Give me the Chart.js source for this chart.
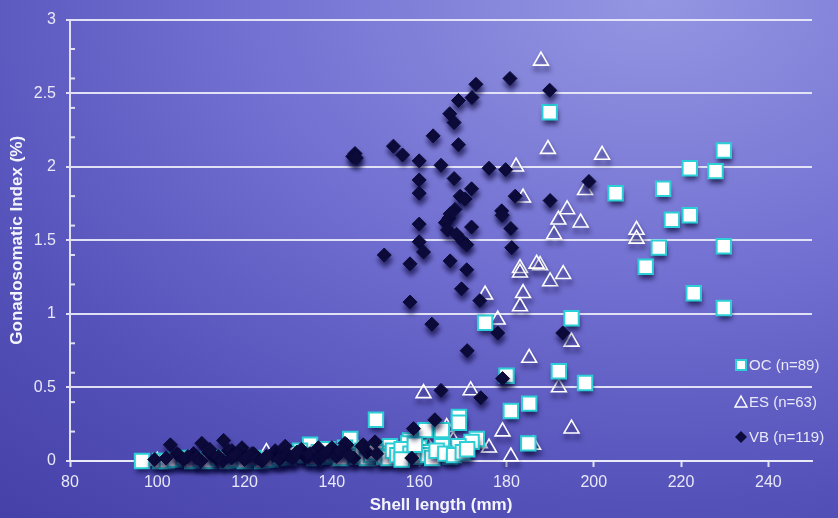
<!DOCTYPE html>
<html>
<head>
<meta charset="utf-8">
<script src="https://cdn.jsdelivr.net/npm/chart.js@4.4.1/dist/chart.umd.min.js"></script>
<style>
  html, body { margin: 0; padding: 0; }
  #wrap {
    width: 838px; height: 518px; position: relative;
    background: radial-gradient(ellipse 120% 130% at 78% 0%, #9496e2 0%, #7371d2 40%, #5451b9 75%, #4541a8 100%);
  }
</style>
</head>
<body>
<div id="wrap"><canvas id="gsiChart"></canvas></div>
<script>
// Shell length (mm) / gonadosomatic index (%) per site
const ocLength = [189.9, 229.8, 222, 227.9, 205, 215.9, 217.9, 222, 214.9, 229.8, 211.9, 222.9, 229.8, 194.9, 175.1,
  180, 192, 198, 181, 185.2, 169.1, 169.1, 161.4, 165.2, 173.2, 172, 185, 169, 165.2, 167.1, 157.9, 153.3, 151.8, 150.1,
  144.2, 135, 132.7, 157.5, 96.5, 100.7, 102.2,
  104, 106, 108, 110, 112, 114, 116, 118, 120, 122, 124, 126, 128, 130, 131, 134, 136, 137, 138, 139, 140, 141, 142, 143,
  145, 146, 147, 148, 149, 150, 152, 153, 154, 155, 156, 158, 159, 160, 161, 162, 163, 164, 166, 168, 170, 171, 156, 159];
const ocGsi = [2.37, 2.11, 1.99, 1.97, 1.82, 1.85, 1.64, 1.67, 1.45, 1.46, 1.32, 1.14, 1.04, 0.97, 0.94,
  0.58, 0.61, 0.53, 0.34, 0.39, 0.30, 0.26, 0.21, 0.21, 0.15, 0.13, 0.12, 0.10, 0.10, 0.03, 0.14, 0.10, 0.05, 0.28,
  0.15, 0.11, 0.07, 0.12, 0, 0, 0,
  0.01, 0.02, 0, 0.01, 0, 0.02, 0, 0.01, 0, 0.02, 0, 0.01, 0.02, 0.03, 0.05, 0.04, 0.02, 0.06, 0.03, 0.08, 0.04, 0.06, 0.02, 0.09,
  0.05, 0.03, 0.07, 0.02, 0.04, 0.06, 0.03, 0.02, 0.07, 0.04, 0.08, 0.05, 0.03, 0.09, 0.06, 0.04, 0.02, 0.07, 0.05, 0.04, 0.06, 0.08, 0.01, 0.11];

const esLength = [187.9, 189.5, 201.9, 182.2, 183.8, 198, 193.9, 191.9, 197, 190.9, 209.8, 209.8, 187.7, 190, 193,
  183.1, 183.1, 186.9, 183.8, 183.1, 175.1, 178, 194.9, 185.2, 192, 161, 171.8, 179.1, 194.9, 186.1, 173.9, 166.3, 167.8, 162.1,
  100, 105, 108, 110, 114, 118, 120, 122, 125, 128, 130, 132, 136, 138, 140, 143, 144, 146, 148, 150, 152, 155, 156, 158,
  160, 164, 170, 176, 181];
const esGsi = [2.72, 2.12, 2.08, 2.00, 1.79, 1.84, 1.71, 1.64, 1.62, 1.54, 1.57, 1.51, 1.33, 1.22, 1.27,
  1.31, 1.28, 1.34, 1.14, 1.05, 1.13, 0.96, 0.81, 0.70, 0.50, 0.46, 0.48, 0.20, 0.22, 0.11, 0.12, 0.23, 0.14, 0.10,
  0, 0, 0.01, 0, 0.01, 0, 0.02, 0, 0.06, 0.01, 0, 0.02, 0, 0.05, 0.03, 0.05, 0.01, 0.08, 0.04, 0, 0.02, 0.06, 0.01, 0.03,
  0.08, 0.05, 0.04, 0.09, 0.03];

const vbLength = [173.0, 180.8, 189.9, 172.1, 169, 167, 168, 163.2, 169, 154.1, 156.2, 145.3, 144.8, 145.6, 160, 165, 176,
  179.8, 160, 168, 160, 172, 169.4, 170.5, 182, 190, 168.2, 178.9, 166.8, 167.1, 166, 166.5, 168.6, 170.1, 170.9, 160, 160,
  161, 152, 157.9, 167.1, 172, 179, 181, 181.2, 170.9, 169.7, 157.9, 173.9, 162.9, 178, 192.9, 198.9, 171, 179.1, 165,
  174.1, 148, 133, 145,
  99.4, 103, 104.5, 104.9, 108.3, 110.2, 111.8, 112.2, 113.7, 115.2, 116.3, 117.1, 119.4, 119, 121.7, 122.1, 126.6, 127,
  128.9, 129.3, 133.9, 134.6, 136.9, 140, 143.4, 143, 146.9, 147.2, 149.9, 150.3, 158.3, 158.7, 163.6,
  102, 106, 107, 109, 110, 112, 114, 115, 117, 118, 120, 121, 123, 124, 125, 128, 130, 131, 132, 135, 137, 138, 139, 141, 142, 144];
const vbGsi = [2.56, 2.60, 2.52, 2.47, 2.45, 2.36, 2.30, 2.21, 2.15, 2.14, 2.08, 2.09, 2.07, 2.06, 2.04, 2.01, 1.99,
  1.98, 1.91, 1.92, 1.82, 1.85, 1.80, 1.78, 1.80, 1.77, 1.71, 1.70, 1.65, 1.68, 1.62, 1.57, 1.54, 1.49, 1.47, 1.61, 1.49,
  1.42, 1.40, 1.34, 1.36, 1.59, 1.67, 1.58, 1.45, 1.30, 1.17, 1.08, 1.09, 0.93, 0.87, 0.87, 1.90, 0.75, 0.56, 0.48,
  0.43, 0.06, 0.08, 0.02,
  0.01, 0.11, 0.05, 0.04, 0.05, 0.12, 0.06, 0.05, 0.01, 0.14, 0.07, 0.07, 0.09, 0.07, 0.05, 0.05, 0.04, 0.07,
  0.07, 0.10, 0.03, 0.03, 0.09, 0.09, 0.11, 0.12, 0.10, 0.11, 0.13, 0.05, 0.02, 0.22, 0.28,
  0.02, 0.01, 0.03, 0.02, 0, 0.08, 0.03, 0, 0.02, 0.04, 0.01, 0.03, 0.02, 0, 0.03, 0.01, 0.04, 0.02, 0.06, 0.05, 0.01, 0.04, 0.06, 0.03, 0.07, 0.04];

const seriesLabels = ['OC (n=89)', 'ES (n=63)', 'VB (n=119)'];
const xTickValues = [80, 100, 120, 140, 160, 180, 200, 220, 240];
const yTickValues = [0, 0.5, 1, 1.5, 2, 2.5, 3];
const yMinorTicks = [0.2, 0.4, 0.6, 0.8, 1.2, 1.4, 1.6, 1.8, 2.2, 2.4, 2.6, 2.8];

const FONT = '"Liberation Sans", Arial, sans-serif';
const lineColor = 'rgba(236,236,250,0.92)';
const textColor = '#e8e8f6';
const ocStyle = { pointStyle: 'rect', radius: 10.2, bg: '#ffffff', border: '#2ccfd6', bw: 2 };
const esStyle = { pointStyle: 'triangle', radius: 8.6, bg: 'rgba(0,0,0,0)', border: '#ffffff', bw: 1.6 };
const vbStyle = { pointStyle: 'rectRot', radius: 7, bg: '#0c0b3a', border: '#0c0b3a', bw: 1 };

const toPoints = (xs, ys) => xs.map((x, i) => ({ x: x, y: ys[i] }));

function makeDataset(label, xs, ys, st, order) {
    return {
        label: label,
        data: toPoints(xs, ys),
        pointStyle: st.pointStyle,
        pointRadius: st.radius,
        pointHoverRadius: st.radius,
        backgroundColor: st.bg,
        borderColor: st.border,
        borderWidth: st.bw,
        order: order,
        clip: false
    };
}

// small inside tick marks on the y axis
const minorTicks = {
    id: 'minorTicks',
    beforeDatasetsDraw(chart) {
        const { ctx, chartArea, scales } = chart;
        ctx.save();
        ctx.strokeStyle = lineColor;
        ctx.lineWidth = 2;
        yMinorTicks.forEach(v => {
            const py = scales.y.getPixelForValue(v);
            ctx.beginPath();
            ctx.moveTo(chartArea.left, py);
            ctx.lineTo(chartArea.left + 5, py);
            ctx.stroke();
        });
        ctx.restore();
    }
};

// drop shadow under markers (squares: fill only, so the white face stays clean)
const markerShadow = {
    id: 'markerShadow',
    beforeDatasetDraw(chart, args) {
        const ctx = chart.ctx;
        ctx.save();
        ctx.shadowColor = 'rgba(12,10,55,0.7)';
        ctx.shadowBlur = 5;
        ctx.shadowOffsetX = 1;
        ctx.shadowOffsetY = 5;
        if (args.index === 0) {
            const plainStroke = CanvasRenderingContext2D.prototype.stroke;
            ctx.stroke = function (...a) {
                const c = this.shadowColor;
                this.shadowColor = 'rgba(0,0,0,0)';
                plainStroke.apply(this, a);
                this.shadowColor = c;
            };
        }
    },
    afterDatasetDraw(chart) {
        const ctx = chart.ctx;
        delete ctx.stroke;
        ctx.restore();
    }
};

// legend sits inside the plot, lower right
const insideLegend = {
    id: 'insideLegend',
    afterDraw(chart) {
        const ctx = chart.ctx;
        const rows = [365, 402, 437];
        const mx = 741;
        ctx.save();
        ctx.font = '15px ' + FONT;
        ctx.textBaseline = 'middle';
        ctx.fillStyle = textColor;
        seriesLabels.forEach((lab, i) => ctx.fillText(lab, 749, rows[i] + 1));

        ctx.fillStyle = ocStyle.bg;
        ctx.strokeStyle = ocStyle.border;
        ctx.lineWidth = 2;
        ctx.fillRect(mx - 5, rows[0] - 5, 10, 10);
        ctx.strokeRect(mx - 5, rows[0] - 5, 10, 10);

        ctx.strokeStyle = '#ffffff';
        ctx.lineWidth = 1.5;
        ctx.beginPath();
        ctx.moveTo(mx, rows[1] - 6);
        ctx.lineTo(mx + 6, rows[1] + 5);
        ctx.lineTo(mx - 6, rows[1] + 5);
        ctx.closePath();
        ctx.stroke();

        ctx.fillStyle = vbStyle.bg;
        ctx.beginPath();
        ctx.moveTo(mx, rows[2] - 6);
        ctx.lineTo(mx + 6, rows[2]);
        ctx.lineTo(mx, rows[2] + 6);
        ctx.lineTo(mx - 6, rows[2]);
        ctx.closePath();
        ctx.fill();
        ctx.restore();
    }
};

new Chart(document.getElementById('gsiChart'), {
    type: 'scatter',
    data: {
        datasets: [
            makeDataset(seriesLabels[0], ocLength, ocGsi, ocStyle, 1),
            makeDataset(seriesLabels[1], esLength, esGsi, esStyle, 2),
            makeDataset(seriesLabels[2], vbLength, vbGsi, vbStyle, 0)
        ]
    },
    options: {
        responsive: true,
        maintainAspectRatio: false,
        animation: false,
        events: [],
        layout: { padding: { top: 15, right: 26, left: 0, bottom: 0 } },
        plugins: {
            legend: { display: false },
            tooltip: { enabled: false }
        },
        scales: {
            x: {
                type: 'linear',
                min: 80,
                max: 250,
                afterBuildTicks: s => { s.ticks = xTickValues.map(v => ({ value: v })); },
                afterFit: s => { s.height = 57; },
                border: { display: true, color: lineColor, width: 2 },
                grid: { drawOnChartArea: false, color: lineColor, tickColor: lineColor, tickLength: 6, tickWidth: 2 },
                ticks: { color: textColor, font: { family: FONT, size: 16 }, padding: 6, callback: v => String(v) },
                title: {
                    display: true,
                    text: 'Shell length (mm)',
                    color: '#f4f4fc',
                    font: { family: FONT, size: 17, weight: 'bold' },
                    padding: { top: 0, bottom: 2 }
                }
            },
            y: {
                type: 'linear',
                min: 0,
                max: 3,
                afterBuildTicks: s => { s.ticks = yTickValues.map(v => ({ value: v })); },
                afterFit: s => { s.width = 70; },
                border: { display: true, color: lineColor, width: 2 },
                grid: { color: lineColor, lineWidth: 2, tickColor: lineColor, tickLength: 4, tickWidth: 2 },
                ticks: { color: textColor, font: { family: FONT, size: 16 }, padding: 10, callback: v => String(v) },
                title: {
                    display: true,
                    text: 'Gonadosomatic Index (%)',
                    color: '#f4f4fc',
                    font: { family: FONT, size: 17, weight: 'bold' },
                    padding: { top: 7, bottom: 0 }
                }
            }
        }
    },
    plugins: [minorTicks, markerShadow, insideLegend]
});
</script>
</body>
</html>
